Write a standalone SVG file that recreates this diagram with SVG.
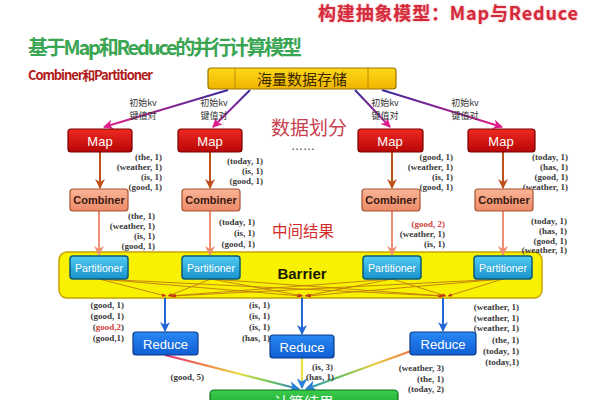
<svg xmlns="http://www.w3.org/2000/svg" width="600" height="400" viewBox="0 0 600 400">
<defs>
<style>
.cjk{font-family:"Noto Sans CJK SC","Noto Sans",sans-serif;}
.kv{font-family:"Liberation Serif",serif;font-weight:bold;font-size:9px;fill:#3a3a3a;text-anchor:end;}
.kvr{fill:#d04040;}
.init{font-family:"Noto Sans CJK SC",sans-serif;font-size:9px;fill:#333;text-anchor:middle;}
.map rect{fill:url(#gMap);stroke:#7a0000;stroke-width:1.2;}
.map text{font-family:"Liberation Sans",sans-serif;font-size:13px;fill:#fff;text-anchor:middle;}
.comb rect{fill:url(#gComb);stroke:#a85030;stroke-width:1.2;}
.comb text{font-family:"Liberation Sans",sans-serif;font-weight:bold;font-size:11px;fill:#3a1a10;text-anchor:middle;}
.part rect{fill:url(#gPart);stroke:#0a5a78;stroke-width:1.5;}
.part text{font-family:"Liberation Sans",sans-serif;font-size:10.5px;fill:#fff;text-anchor:middle;}
.red rect{fill:url(#gRed);stroke:#0a3a8a;stroke-width:1.2;}
.red text{font-family:"Liberation Sans",sans-serif;font-size:13px;fill:#fff;text-anchor:middle;}
.arrMap{stroke:#c0501a;stroke-width:2;fill:none;marker-end:url(#mBrown);}
.arrComb{stroke:#ee8e72;stroke-width:2;fill:none;marker-end:url(#mSalmon);}
.arrRed{stroke:#2266d8;stroke-width:2;fill:none;marker-end:url(#mBlue);}
.cross{stroke:#c07a10;stroke-width:0.9;fill:none;marker-end:url(#mSmall);}
.split{stroke-width:2;fill:none;marker-end:url(#mMag);}
</style>
<linearGradient id="gMap" x1="0" y1="0" x2="0" y2="1"><stop offset="0" stop-color="#ee2a22"/><stop offset="1" stop-color="#b80606"/></linearGradient>
<linearGradient id="gComb" x1="0" y1="0" x2="0" y2="1"><stop offset="0" stop-color="#f9b596"/><stop offset="1" stop-color="#ec8a68"/></linearGradient>
<linearGradient id="gPart" x1="0" y1="0" x2="0" y2="1"><stop offset="0" stop-color="#52ccf2"/><stop offset="1" stop-color="#1892cc"/></linearGradient>
<linearGradient id="gRed" x1="0" y1="0" x2="0" y2="1"><stop offset="0" stop-color="#2a88f4"/><stop offset="1" stop-color="#0f5ed2"/></linearGradient>
<linearGradient id="gStore" x1="0" y1="0" x2="0" y2="1"><stop offset="0" stop-color="#ffd81a"/><stop offset="1" stop-color="#f0b400"/></linearGradient>
<linearGradient id="gOut" x1="0" y1="0" x2="0" y2="1"><stop offset="0" stop-color="#3ccc4a"/><stop offset="1" stop-color="#14a030"/></linearGradient>
<linearGradient id="gS1" gradientUnits="userSpaceOnUse" x1="228" y1="90" x2="104" y2="127"><stop offset="0" stop-color="#3a2a9a"/><stop offset="1" stop-color="#e0208a"/></linearGradient>
<linearGradient id="gS2" gradientUnits="userSpaceOnUse" x1="250" y1="90" x2="213" y2="127"><stop offset="0" stop-color="#3a2a9a"/><stop offset="1" stop-color="#d0209a"/></linearGradient>
<linearGradient id="gS3" gradientUnits="userSpaceOnUse" x1="355" y1="90" x2="390" y2="127"><stop offset="0" stop-color="#3a2a9a"/><stop offset="1" stop-color="#d0209a"/></linearGradient>
<linearGradient id="gS4" gradientUnits="userSpaceOnUse" x1="382" y1="90" x2="502" y2="127"><stop offset="0" stop-color="#3a2a9a"/><stop offset="1" stop-color="#e0208a"/></linearGradient>
<linearGradient id="gR1" gradientUnits="userSpaceOnUse" x1="165" y1="355" x2="300" y2="390"><stop offset="0" stop-color="#e0307a"/><stop offset="0.3" stop-color="#f08040"/><stop offset="0.55" stop-color="#e8e040"/><stop offset="0.8" stop-color="#60c060"/><stop offset="1" stop-color="#2a70e0"/></linearGradient>
<linearGradient id="gR2" gradientUnits="userSpaceOnUse" x1="302" y1="358" x2="302" y2="390"><stop offset="0" stop-color="#e8e040"/><stop offset="0.6" stop-color="#f0e040"/><stop offset="1" stop-color="#60b0e0"/></linearGradient>
<linearGradient id="gR3" gradientUnits="userSpaceOnUse" x1="411" y1="351" x2="306" y2="390"><stop offset="0" stop-color="#f07040"/><stop offset="0.35" stop-color="#e8d040"/><stop offset="0.7" stop-color="#60c060"/><stop offset="1" stop-color="#2a90d0"/></linearGradient>
<marker id="mBrown" viewBox="0 0 10 10" refX="9" refY="5" markerWidth="5" markerHeight="5" orient="auto"><path d="M0,0 L10,5 L0,10 L3,5 Z" fill="#c0501a"/></marker>
<marker id="mSalmon" viewBox="0 0 10 10" refX="9" refY="5" markerWidth="5" markerHeight="5" orient="auto"><path d="M0,0 L10,5 L0,10 L3,5 Z" fill="#ee8e72"/></marker>
<marker id="mBlue" viewBox="0 0 10 10" refX="9" refY="5" markerWidth="5" markerHeight="5" orient="auto"><path d="M0,0 L10,5 L0,10 L3,5 Z" fill="#2266d8"/></marker>
<marker id="mMag" viewBox="0 0 10 10" refX="9" refY="5" markerWidth="5" markerHeight="5" orient="auto"><path d="M0,0 L10,5 L0,10 L3,5 Z" fill="#e0208a"/></marker>
<marker id="mSmall" viewBox="0 0 10 10" refX="9" refY="5" markerWidth="5" markerHeight="5" orient="auto"><path d="M0,1 L10,5 L0,9 Z" fill="#c03818"/></marker>
<marker id="mRainbow" viewBox="0 0 10 10" refX="9" refY="5" markerWidth="5" markerHeight="5" orient="auto"><path d="M0,0 L10,5 L0,10 L3,5 Z" fill="#2a80d8"/></marker>
<filter id="glow" x="-10%" y="-30%" width="120%" height="160%"><feGaussianBlur stdDeviation="1.2"/></filter>
</defs>
<rect width="600" height="400" fill="#fff"/>

<!-- Titles -->
<g id="titles">
<text x="318" y="20" class="cjk" font-size="18" font-weight="bold" fill="#f0a0a8" filter="url(#glow)" textLength="260">构建抽象模型：Map与Reduce</text>
<text x="318" y="20" class="cjk" font-size="18" font-weight="bold" fill="#d42a3a" textLength="260">构建抽象模型：Map与Reduce</text>
<text x="28" y="55" class="cjk" font-size="20" font-weight="bold" fill="#3aa552" textLength="274">基于Map和Reduce的并行计算模型</text>
<text x="28" y="80" class="cjk" font-size="13" font-weight="bold" fill="#b01c1c" textLength="125">Combiner和Partitioner</text>
<text x="309" y="135" class="cjk" font-size="19" fill="#c8404e" text-anchor="middle">数据划分</text>
<text x="303" y="150" font-family="Liberation Sans,sans-serif" font-size="12" fill="#333" text-anchor="middle">……</text>
<text x="303" y="237" class="cjk" font-size="15.5" fill="#d42a2a" text-anchor="middle">中间结果</text>
</g>

<!-- Barrier band -->
<g id="barrier">
<rect x="59" y="252" width="483" height="46" rx="8" fill="#f8f200" stroke="#c8a400" stroke-width="1.5"/>
<text x="302" y="279" font-family="Liberation Sans,sans-serif" font-size="15" font-weight="bold" fill="#1a1a00" text-anchor="middle">Barrier</text>
</g>

<!-- Connectors -->
<g id="connectors">
<line class="split" x1="228" y1="90" x2="104" y2="127" stroke="url(#gS1)"/>
<line class="split" x1="250" y1="90" x2="213" y2="127" stroke="url(#gS2)"/>
<line class="split" x1="355" y1="90" x2="390" y2="127" stroke="url(#gS3)"/>
<line class="split" x1="382" y1="90" x2="502" y2="127" stroke="url(#gS4)"/>
<line class="arrMap" x1="100" y1="152" x2="100" y2="188"/>
<line class="arrMap" x1="210" y1="152" x2="210" y2="188"/>
<line class="arrMap" x1="392" y1="152" x2="392" y2="188"/>
<line class="arrMap" x1="503" y1="152" x2="503" y2="188"/>
<line class="arrComb" x1="99" y1="211" x2="99" y2="255"/>
<line class="arrComb" x1="210" y1="211" x2="210" y2="255"/>
<line class="arrComb" x1="392" y1="211" x2="392" y2="255"/>
<line class="arrComb" x1="503" y1="211" x2="503" y2="255"/>
<line class="cross" x1="99" y1="279" x2="166" y2="296"/>
<line class="cross" x1="99" y1="279" x2="301" y2="296"/>
<line class="cross" x1="99" y1="279" x2="442" y2="296"/>
<line class="cross" x1="211" y1="279" x2="168" y2="296"/>
<line class="cross" x1="211" y1="279" x2="303" y2="296"/>
<line class="cross" x1="211" y1="279" x2="444" y2="296"/>
<line class="cross" x1="392" y1="279" x2="170" y2="296"/>
<line class="cross" x1="392" y1="279" x2="305" y2="296"/>
<line class="cross" x1="392" y1="279" x2="446" y2="296"/>
<line class="cross" x1="503" y1="279" x2="172" y2="296"/>
<line class="cross" x1="503" y1="279" x2="307" y2="296"/>
<line class="cross" x1="503" y1="279" x2="448" y2="296"/>
<line class="arrRed" x1="165" y1="298" x2="165" y2="331"/>
<line class="arrRed" x1="302" y1="298" x2="302" y2="334"/>
<line class="arrRed" x1="443" y1="298" x2="443" y2="331"/>
<line x1="165" y1="355" x2="299" y2="389" stroke="url(#gR1)" stroke-width="2.2" marker-end="url(#mRainbow)"/>
<line x1="302" y1="358" x2="302" y2="388" stroke="url(#gR2)" stroke-width="2.2" marker-end="url(#mRainbow)"/>
<line x1="411" y1="351" x2="306" y2="389" stroke="url(#gR3)" stroke-width="2.2" marker-end="url(#mRainbow)"/>
</g>

<!-- Storage -->
<g id="storage">
<rect x="208" y="68" width="188" height="21" rx="3" fill="url(#gStore)" stroke="#9a7400" stroke-width="1.2"/>
<line x1="235" y1="68" x2="235" y2="89" stroke="#a88000" stroke-width="0.8"/>
<line x1="368" y1="68" x2="368" y2="89" stroke="#a88000" stroke-width="0.8"/>
<line x1="290" y1="70" x2="290" y2="89" stroke="#c09000" stroke-width="0.5"/>
<line x1="343" y1="70" x2="343" y2="89" stroke="#c09000" stroke-width="0.5"/>
<text x="302" y="84.5" class="cjk" font-size="15" fill="#3a2800" text-anchor="middle">海量数据存储</text>
</g>

<!-- init kv labels -->
<g id="initkv">
<text class="init" x="143" y="106">初始kv</text><text class="init" x="143" y="118.5">键值对</text>
<text class="init" x="214" y="106">初始kv</text><text class="init" x="214" y="118.5">键值对</text>
<text class="init" x="385" y="106">初始kv</text><text class="init" x="385" y="118.5">键值对</text>
<text class="init" x="465" y="106">初始kv</text><text class="init" x="465" y="118.5">键值对</text>
</g>

<!-- Maps -->
<g id="map1" class="map"><rect x="68" y="129" width="64" height="23" rx="3"/><text x="100" y="145.5">Map</text></g>
<g id="map2" class="map"><rect x="178" y="129" width="64" height="23" rx="3"/><text x="210" y="145.5">Map</text></g>
<g id="map3" class="map"><rect x="358" y="129" width="65" height="23" rx="3"/><text x="390" y="145.5">Map</text></g>
<g id="map4" class="map"><rect x="468" y="129" width="67" height="23" rx="3"/><text x="501" y="145.5">Map</text></g>

<!-- Map output labels -->
<g id="mapkv">
<text class="kv" x="162" y="160">(the, 1)</text><text class="kv" x="162" y="170">(weather, 1)</text><text class="kv" x="162" y="180">(is, 1)</text><text class="kv" x="162" y="190">(good, 1)</text>
<text class="kv" x="263" y="164">(today, 1)</text><text class="kv" x="263" y="174">(is, 1)</text><text class="kv" x="263" y="184">(good, 1)</text>
<text class="kv" x="453" y="160">(good, 1)</text><text class="kv" x="453" y="170">(weather, 1)</text><text class="kv" x="453" y="180">(is, 1)</text><text class="kv" x="453" y="190">(good, 1)</text>
<text class="kv" x="568" y="160">(today, 1)</text><text class="kv" x="568" y="170">(has, 1)</text><text class="kv" x="568" y="180">(good, 1)</text><text class="kv" x="568" y="190">(weather, 1)</text>
</g>

<!-- Combiners -->
<g id="comb1" class="comb"><rect x="70" y="189" width="58" height="22" rx="3"/><text x="99" y="204">Combiner</text></g>
<g id="comb2" class="comb"><rect x="182" y="189" width="58" height="22" rx="3"/><text x="211" y="204">Combiner</text></g>
<g id="comb3" class="comb"><rect x="362" y="189" width="58" height="22" rx="3"/><text x="391" y="204">Combiner</text></g>
<g id="comb4" class="comb"><rect x="475" y="189" width="58" height="22" rx="3"/><text x="504" y="204">Combiner</text></g>

<!-- Combiner output labels -->
<g id="combkv">
<text class="kv" x="155" y="219">(the, 1)</text><text class="kv" x="155" y="229">(weather, 1)</text><text class="kv" x="155" y="239">(is, 1)</text><text class="kv" x="155" y="249">(good, 1)</text>
<text class="kv" x="255" y="225">(today, 1)</text><text class="kv" x="255" y="236">(is, 1)</text><text class="kv" x="255" y="247">(good, 1)</text>
<text class="kv kvr" x="445" y="227">(good, 2)</text><text class="kv" x="445" y="237">(weather, 1)</text><text class="kv" x="445" y="247">(is, 1)</text>
<text class="kv" x="567" y="224">(today, 1)</text><text class="kv" x="567" y="234">(has, 1)</text><text class="kv" x="567" y="244">(good, 1)</text><text class="kv" x="567" y="253">(weather, 1)</text>
</g>

<!-- Partitioners -->
<g id="part1" class="part"><rect x="70" y="256" width="58" height="23" rx="3"/><text x="99" y="271.5">Partitioner</text></g>
<g id="part2" class="part"><rect x="182" y="256" width="58" height="23" rx="3"/><text x="211" y="271.5">Partitioner</text></g>
<g id="part3" class="part"><rect x="363" y="256" width="58" height="23" rx="3"/><text x="392" y="271.5">Partitioner</text></g>
<g id="part4" class="part"><rect x="474" y="256" width="58" height="23" rx="3"/><text x="503" y="271.5">Partitioner</text></g>

<!-- Reduce input labels -->
<g id="redkv">
<text class="kv" x="124" y="308">(good, 1)</text><text class="kv" x="124" y="319">(good, 1)</text><text class="kv" x="124" y="330"><tspan fill="#3a3a3a">(</tspan><tspan fill="#d04040">good,2</tspan><tspan fill="#3a3a3a">)</tspan></text><text class="kv" x="124" y="341">(good,1)</text>
<text class="kv" x="270" y="308">(is, 1)</text><text class="kv" x="270" y="319">(is, 1)</text><text class="kv" x="270" y="330">(is, 1)</text><text class="kv" x="270" y="341">(has, 1)</text>
<text class="kv" x="519" y="310">(weather, 1)</text><text class="kv" x="519" y="321">(weather, 1)</text><text class="kv" x="519" y="331">(weather, 1)</text><text class="kv" x="519" y="343">(the, 1)</text><text class="kv" x="519" y="354">(today, 1)</text><text class="kv" x="519" y="365">(today,1)</text>
</g>

<!-- Reduces -->
<g id="reduce1" class="red"><rect x="133" y="332" width="65" height="23" rx="3"/><text x="165.5" y="348.5">Reduce</text></g>
<g id="reduce2" class="red"><rect x="270" y="335" width="64" height="23" rx="3"/><text x="302" y="351.5">Reduce</text></g>
<g id="reduce3" class="red"><rect x="410" y="332" width="66" height="23" rx="3"/><text x="443" y="348.5">Reduce</text></g>

<!-- Reduce output labels -->
<g id="outkv">
<text class="kv" x="204" y="380">(good, 5)</text>
<text class="kv" x="333" y="370">(is, 3)</text><text class="kv" x="334" y="380">(has, 1)</text>
<text class="kv" x="444" y="371">(weather, 3)</text><text class="kv" x="444" y="382">(the, 1)</text><text class="kv" x="444" y="392">(today, 2)</text>
</g>

<!-- Output -->
<g id="result">
<rect x="210" y="390" width="188" height="24" rx="4" fill="url(#gOut)" stroke="#0a7020" stroke-width="1.2"/>
<text x="304" y="408" class="cjk" font-size="15" fill="#fff" text-anchor="middle">计算结果</text>
</g>
</svg>
